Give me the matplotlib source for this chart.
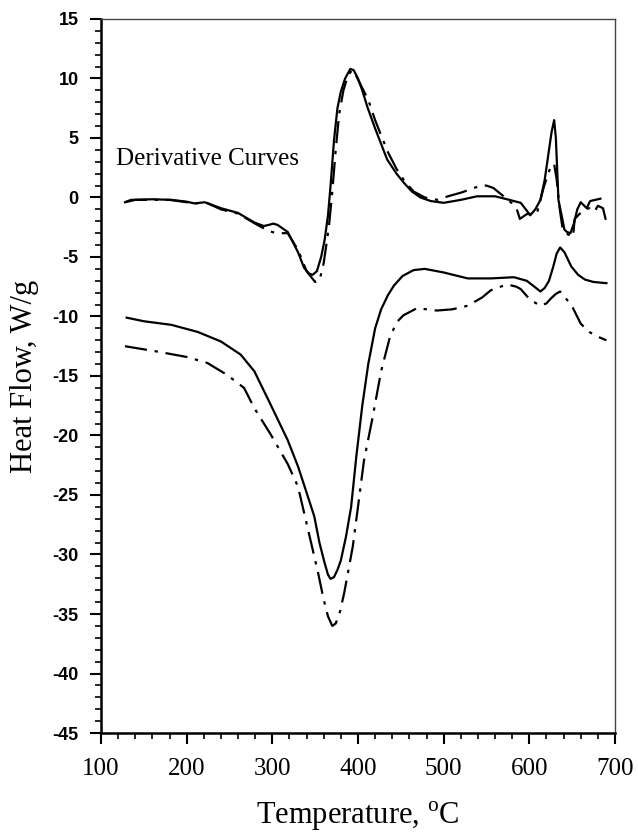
import matplotlib
matplotlib.use("Agg")
import matplotlib.pyplot as plt
from matplotlib.ticker import MultipleLocator

plt.rcParams["axes.unicode_minus"] = False
plt.rcParams["mathtext.fontset"] = "custom"
plt.rcParams["mathtext.rm"] = "Liberation Serif"

# derivative of heat flow, sample A (solid) and sample B (dash-dot)
deriv_a_t = [128, 135, 160, 182, 200, 209, 221, 240, 260, 279, 290, 296, 301, 306, 312,
             318, 330, 337, 343, 347, 352, 357, 361, 365, 368, 372, 376, 380, 385, 391,
             395, 400, 405, 411, 420, 434, 445, 454, 463, 473, 485, 500, 520, 539, 560,
             574, 590, 597, 601, 607, 613, 618, 623, 626, 629, 631, 634, 638, 641, 644,
             648, 652, 656, 660, 667, 671, 683]
deriv_a_v = [-0.4, -0.2, -0.15, -0.2, -0.35, -0.5, -0.4, -0.9, -1.3, -2.1, -2.4, -2.3, -2.2, -2.3, -2.6,
             -2.9, -4.6, -5.9, -6.4, -6.5, -6.2, -5.0, -3.6, -1.5, 1.0, 4.8, 7.5, 8.9, 10.0, 10.8,
             10.7, 10.0, 9.0, 7.6, 5.8, 3.2, 2.0, 1.2, 0.5, 0.0, -0.3, -0.45, -0.2, 0.1, 0.1,
             -0.15, -0.45, -1.1, -1.5, -1.0, -0.2, 1.5, 4.0, 5.5, 6.5, 5.0, -0.2, -1.6, -2.7, -2.9,
             -3.0, -2.2, -1.0, -0.4, -0.9, -0.3, -0.1]

deriv_b_t = [128, 140, 180, 210, 222, 240, 260, 280, 295, 305, 318, 330, 340, 350, 355,
             360, 366, 370, 374, 378, 383, 388, 393, 398, 405, 412, 420, 426, 435, 445,
             455, 465, 478, 493, 505, 520, 532, 543, 550, 558, 570, 580, 585, 589, 597,
             609, 617, 622, 626, 629, 632, 635, 639, 645, 651, 653, 657, 664, 670, 676,
             680, 686, 690]
deriv_b_v = [-0.4, -0.2, -0.2, -0.5, -0.4, -1.0, -1.35, -2.2, -2.8, -3.0, -3.0, -4.4, -6.2, -7.1, -7.0,
             -5.5, -2.5, 0.5, 4.0, 7.0, 9.0, 10.2, 10.7, 10.2, 9.2, 8.2, 6.5, 5.4, 3.8, 2.4,
             1.3, 0.5, 0.0, -0.2, 0.1, 0.4, 0.7, 1.0, 1.0, 0.8, 0.1, -0.5, -0.9, -1.8, -1.4,
             -1.3, 0.9, 2.0, 2.75, 2.8, 1.5, -0.7, -2.7, -3.1, -3.3, -1.8, -1.5, -1.0, -0.9, -1.2,
             -0.7, -0.9, -2.1]

# heat flow, sample A (solid) and sample B (dash-dot)
flow_a_t = [130, 150, 182, 213, 240, 263, 279, 298, 318, 330, 340, 349, 355, 361, 365,
            368, 372, 376, 380, 386, 392, 398, 405, 412, 420, 427, 435, 442, 452, 465,
            478, 500, 528, 555, 582, 597, 606, 613, 618, 623, 628, 632, 636, 641, 649,
            657, 665, 675, 690]
flow_a_v = [-10.1, -10.4, -10.7, -11.3, -12.1, -13.2, -14.6, -17.4, -20.4, -22.6, -24.8, -26.8, -29.0, -30.7, -31.7,
            -32.05, -31.9, -31.3, -30.5, -28.5, -26.0, -21.8, -17.5, -14.0, -11.0, -9.4, -8.2, -7.4, -6.6, -6.1,
            -6.0, -6.3, -6.8, -6.8, -6.7, -7.0, -7.5, -7.9, -7.6, -7.0, -5.8, -4.7, -4.2, -4.6, -5.8,
            -6.5, -6.9, -7.1, -7.2]

flow_b_t = [128, 145, 162, 200, 224, 247, 267, 279, 298, 318, 330, 341, 353, 360, 365,
            370, 374, 379, 384, 394, 400, 407, 417, 427, 437, 445, 453, 469, 492, 510,
            528, 545, 555, 574, 585, 590, 601, 613, 620, 625, 631, 636, 642, 651, 660,
            670, 680, 690]
flow_b_v = [-12.5, -12.7, -12.9, -13.4, -13.9, -14.9, -16.0, -17.7, -19.9, -22.4, -24.3, -27.7, -31.4, -33.8, -35.2,
            -36.0, -35.8, -34.8, -33.2, -29.3, -26.0, -22.1, -18.5, -14.6, -11.8, -10.5, -9.9, -9.3, -9.5, -9.4,
            -9.1, -8.4, -7.8, -7.3, -7.5, -7.7, -8.6, -9.1, -8.9, -8.5, -8.1, -7.9, -8.4, -9.3, -10.6,
            -11.3, -11.7, -12.0]

SERIF = ["Liberation Serif", "DejaVu Serif"]
SANS = ["Liberation Sans", "DejaVu Sans"]
DASHDOT = (0, (10, 3.5, 1.5, 3.5))

fig = plt.figure(figsize=(6.38, 8.36), dpi=100)
ax = fig.add_axes([0.1583, 0.1232, 0.8056, 0.8541])

ax.plot(deriv_a_t, deriv_a_v, color="black", lw=1.6, solid_joinstyle="round")
ax.plot(deriv_b_t, deriv_b_v, color="black", lw=1.6, linestyle=DASHDOT)
ax.plot(flow_a_t, flow_a_v, color="black", lw=1.6, solid_joinstyle="round")
ax.plot(flow_b_t, flow_b_v, color="black", lw=1.6, linestyle=DASHDOT)

ax.text(118, 3.2, "Derivative Curves", family=SERIF, fontsize=18, va="center", ha="left")

ax.set_xlim(100, 700)
ax.set_ylim(-45, 15)
ax.xaxis.set_major_locator(MultipleLocator(100))
ax.xaxis.set_minor_locator(MultipleLocator(20))
ax.yaxis.set_major_locator(MultipleLocator(5))
ax.yaxis.set_minor_locator(MultipleLocator(1))

ax.tick_params(axis="both", which="major", direction="out", length=8, width=1.5, color="black")
ax.tick_params(axis="both", which="minor", direction="out", length=4, width=1.2, color="black")
ax.tick_params(axis="x", which="major", pad=10)
ax.tick_params(axis="y", which="major", pad=8)

for lbl in ax.get_xticklabels():
    lbl.set_family(SERIF)
    lbl.set_fontsize(18)
for lbl in ax.get_yticklabels():
    lbl.set_family(SANS)
    lbl.set_fontsize(13)
    lbl.set_fontweight("bold")

for side in ("left", "bottom"):
    ax.spines[side].set_linewidth(1.8)
for side in ("top", "right"):
    ax.spines[side].set_linewidth(1.0)
    ax.spines[side].set_color("#444444")

ax.set_xlabel("Temperature, $^\\mathrm{o}$C", family=SERIF, fontsize=22, labelpad=14)
ax.set_ylabel("Heat Flow, W/g", family=SERIF, fontsize=22, labelpad=10)

fig.savefig("out.png", dpi=100)
